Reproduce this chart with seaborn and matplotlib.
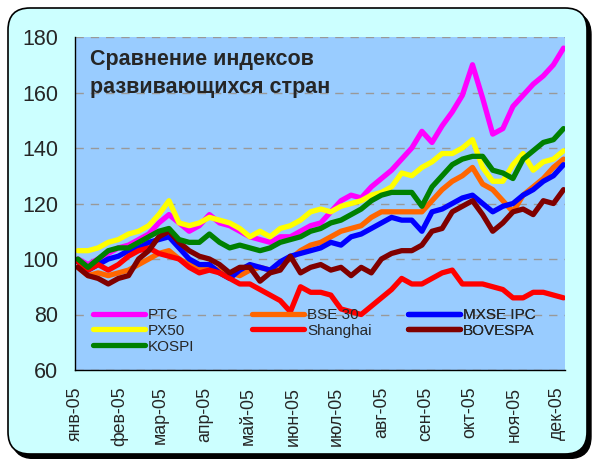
import pandas as pd
import matplotlib.pyplot as plt
import matplotlib.dates as mdates
import seaborn as sns
from matplotlib.lines import Line2D
from matplotlib.patches import FancyBboxPatch
from matplotlib.ticker import MultipleLocator

# Weekly index values, 2005 (start of year = 100)
weeks = pd.date_range("2005-01-03", periods=49, freq="7D")

ptc = [100, 98, 100, 102, 104, 105, 107, 109, 113, 116, 113, 110, 112, 116, 113, 112, 110,
       108, 107, 106, 108, 108, 110, 112, 113, 117, 121, 123, 122, 126, 129, 132, 136, 140,
       146, 142, 148, 153, 159, 170, 158, 145, 147, 155, 159, 163, 166, 170, 176]
bse30 = [97, 94, 95, 94, 95, 96, 98, 100, 102, 103, 100, 98, 97, 97, 96, 95, 94,
         96, 97, 96, 98, 100, 103, 105, 106, 108, 110, 111, 112, 115, 117, 117, 117, 117,
         117, 121, 125, 128, 130, 133, 127, 125, 121, 117, 123, 126, 129, 133, 136]
mxse = [99, 96, 98, 100, 101, 103, 104, 106, 107, 108, 104, 100, 98, 98, 95, 93, 96,
        98, 97, 96, 99, 101, 102, 103, 104, 106, 105, 108, 109, 111, 113, 115, 114, 114,
        110, 117, 118, 120, 122, 123, 120, 117, 119, 120, 123, 125, 128, 130, 134]
px50 = [103, 103, 104, 106, 107, 109, 110, 112, 116, 121, 113, 112, 113, 115, 114, 113, 111,
        108, 110, 108, 111, 112, 114, 117, 118, 117, 119, 120, 121, 123, 124, 126, 131, 130,
        133, 135, 138, 138, 140, 143, 133, 128, 128, 134, 138, 132, 135, 136, 139]
shanghai = [99, 96, 98, 96, 98, 101, 103, 104, 102, 101, 100, 97, 95, 96, 95, 93, 91,
            91, 89, 87, 85, 81, 90, 88, 88, 87, 82, 81, 80, 83, 86, 89, 93, 91,
            91, 93, 95, 96, 91, 91, 91, 90, 89, 86, 86, 88, 88, 87, 86]
bovespa = [97, 94, 93, 91, 93, 94, 100, 103, 108, 110, 106, 103, 101, 100, 98, 95, 97,
           97, 92, 95, 96, 101, 95, 97, 98, 96, 97, 94, 97, 95, 100, 102, 103, 103,
           105, 110, 111, 117, 119, 121, 116, 110, 113, 117, 118, 116, 121, 120, 125]
kospi = [100, 97, 100, 103, 104, 104, 106, 108, 110, 111, 107, 106, 106, 109, 106, 104, 105,
         104, 103, 104, 106, 107, 108, 110, 111, 113, 114, 116, 118, 121, 123, 124, 124, 124,
         119, 126, 130, 134, 136, 137, 137, 132, 131, 129, 136, 139, 142, 143, 147]

series = {"PTC": ptc, "BSE 30": bse30, "MXSE IPC": mxse, "PX50": px50,
          "Shanghai": shanghai, "BOVESPA": bovespa, "KOSPI": kospi}
colors = {"PTC": "#FF00FF", "BSE 30": "#FF6600", "MXSE IPC": "#0000FF", "PX50": "#FFFF00",
          "Shanghai": "#FF0000", "BOVESPA": "#800000", "KOSPI": "#008000"}

month_starts = pd.date_range("2005-01-01", periods=12, freq="MS")
month_labels = ["янв-05", "фев-05", "мар-05", "апр-05", "май-05", "июн-05",
                "июл-05", "авг-05", "сен-05", "окт-05", "ноя-05", "дек-05"]

df = pd.concat([pd.DataFrame({"date": weeks, "value": v, "index": k}) for k, v in series.items()])

sns.set_style("white")
plt.rcParams['font.family'] = ['Liberation Sans', 'DejaVu Sans']

fig = plt.figure(figsize=(5.95, 4.59), dpi=100)

# rounded cyan background with shadow
shadow = FancyBboxPatch((0.12, 0.005), 5.79, 4.46, boxstyle="round,pad=0,rounding_size=0.22",
                        transform=fig.dpi_scale_trans, facecolor="black", edgecolor="black", zorder=-2)
card = FancyBboxPatch((0.08, 0.05), 5.79, 4.46, boxstyle="round,pad=0,rounding_size=0.22",
                      transform=fig.dpi_scale_trans, facecolor="#CCFFFF", edgecolor="black", lw=1.2,
                      zorder=-1)
fig.patches.extend([shadow, card])

ax = fig.add_axes([75 / 595, 89 / 459, 490 / 595, 333 / 459])
ax.set_facecolor("#99CCFF")

sns.lineplot(data=df, x="date", y="value", hue="index", hue_order=list(series),
             palette=colors, lw=3.8, legend=False, ax=ax)

ax.set_xlim(pd.Timestamp("2005-01-01"), pd.Timestamp("2005-12-06"))
ax.set_ylim(60, 180)
ax.yaxis.set_major_locator(MultipleLocator(20))
ax.yaxis.set_minor_locator(MultipleLocator(4))
ax.set_xticks(mdates.date2num(month_starts))
ax.set_xticklabels(month_labels, rotation=90, fontsize=12.8)
ax.tick_params(axis="y", which="both", direction="in", length=5, width=1, labelsize=15.5, pad=12)
ax.tick_params(axis="x", direction="out", length=5, width=1, pad=7)
ax.grid(axis="y", color="#999999", ls=(0, (6, 5)), lw=1)
ax.set_xlabel("")
ax.set_ylabel("")
for s in ["top", "right"]:
    ax.spines[s].set_visible(False)
for s in ["left", "bottom"]:
    ax.spines[s].set_color("black")
    ax.spines[s].set_linewidth(1)

ax.text(0.031, 0.965, "Сравнение индексов\nразвивающихся стран", transform=ax.transAxes,
        fontsize=15.5, fontweight="bold", va="top", ha="left", linespacing=1.45)

# legend in three separate columns
columns = [(["PTC", "PX50", "KOSPI"], 93), (["BSE 30", "Shanghai"], 252), (["MXSE IPC", "BOVESPA"], 408)]
for names, xpx in columns:
    handles = [Line2D([], [], color=colors[n], lw=3.8) for n in names]
    leg = ax.legend(handles, names, loc="upper left", bbox_to_anchor=((xpx - 75) / 490, 62 / 333),
                    frameon=False, fontsize=11, handlelength=3.4, handletextpad=0.2,
                    borderpad=0, borderaxespad=0, labelspacing=0.12)
    ax.add_artist(leg)

fig.savefig("out.png", dpi=100)
